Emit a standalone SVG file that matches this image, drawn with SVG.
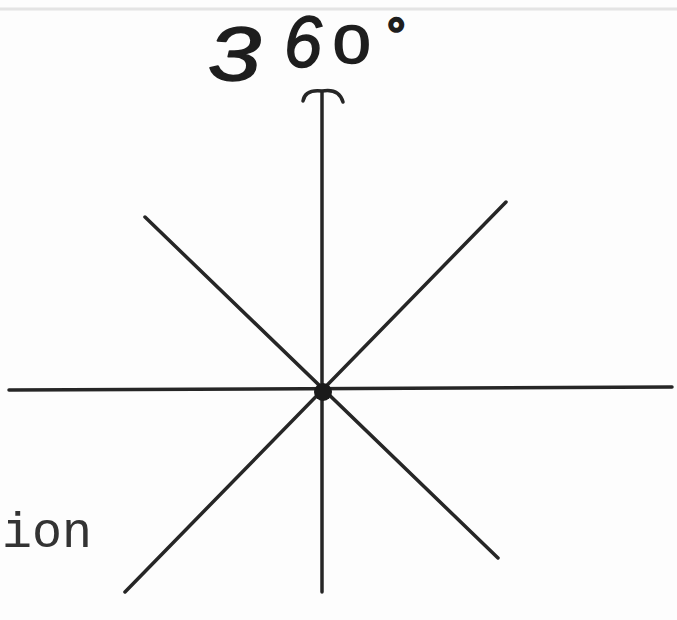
<svg xmlns="http://www.w3.org/2000/svg" width="677" height="620" viewBox="0 0 677 620">
<style>
.ln{stroke:#262626;stroke-width:3.5;stroke-linecap:round;fill:none}
.hw{font-family:"Liberation Sans",Arial,sans-serif;fill:#1e1e1e;stroke:#1e1e1e;stroke-width:1.6;stroke-linejoin:round}
.mono{font-family:"Liberation Mono","Courier New",monospace;fill:#333}
</style>
<rect width="677" height="620" fill="#fdfdfd"/>
<line x1="0" y1="9" x2="677" y2="9" stroke="#e4e4e4" stroke-width="3"/>
<g id="connectors">
<line class="ln" x1="322" y1="92" x2="322" y2="592"/>
<line class="ln" x1="9" y1="390" x2="672" y2="387"/>
<line class="ln" x1="145" y1="217" x2="498" y2="558"/>
<line class="ln" x1="125" y1="592" x2="506" y2="202"/>
<path class="ln" stroke-width="5" d="M303 101 Q305 89 322 91 Q339 88 343 102"/>
</g>
<g id="center"><circle cx="323" cy="392" r="9" fill="#1a1a1a"/></g>
<g id="label-360">
<text class="hw" font-size="76" font-style="italic" transform="translate(208 80) scale(1.25 1)">3</text>
<text class="hw" font-size="72" font-style="italic" transform="translate(284 67) scale(0.95 1)">6</text>
<text class="hw" font-size="54" transform="translate(333 63) scale(1.25 1)">0</text>
<text class="hw" x="387" y="50" font-size="46" font-weight="bold">°</text>
</g>
<g id="label-ion"><text class="mono" x="2" y="547" font-size="50">ion</text></g>
</svg>
